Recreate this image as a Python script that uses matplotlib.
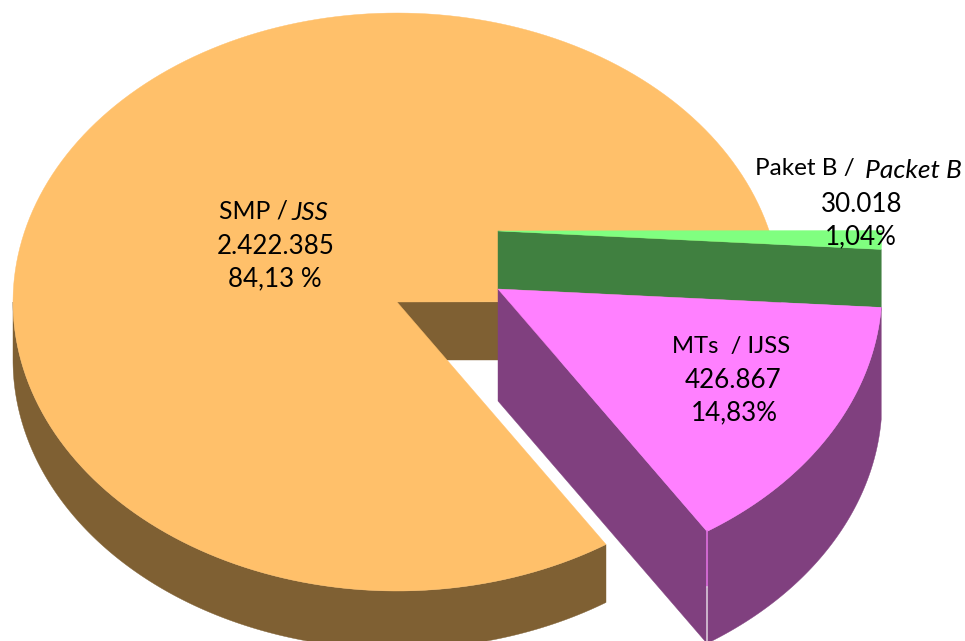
import numpy as np
import matplotlib
matplotlib.use("Agg")
import matplotlib.pyplot as plt
from matplotlib.patches import Polygon

# data
categories = ["SMP / JSS", "MTs / IJSS", "Paket B / Packet B"]
values = [2422385, 426867, 30018]
value_labels = ["2.422.385", "426.867", "30.018"]
pct_labels = ["84,13 %", "14,83%", "1,04%"]

top_colors = ["#FFC06A", "#FF80FF", "#80FF80"]
side_colors = ["#7F6033", "#80407F", "#408040"]

plt.rcParams["font.family"] = ["Lato", "DejaVu Sans"]

fig = plt.figure(figsize=(9.65, 6.41), dpi=100)
ax = fig.add_axes([0, 0, 1, 1])
ax.set_xlim(0, 965)
ax.set_ylim(641, 0)
ax.axis("off")

rx, ry = 384, 289
fs = 18.7

# slice angles from the values, going round from just above 3 o'clock
total = sum(values)
sweep = [360 * v / total for v in values]
a0 = 0.1
a1 = a0 + sweep[0]
a2 = a1 + sweep[1]
a3 = a2 + sweep[2]


def arc(cx, cy, start, end, n=200):
    t = np.radians(np.linspace(start, end, n))
    return np.column_stack([cx + rx * np.cos(t), cy - ry * np.sin(t)])


def wall(p, q, depth, color, z):
    pts = [p, q, (q[0], q[1] + depth), (p[0], p[1] + depth)]
    ax.add_patch(Polygon(pts, closed=True, fc=color, ec=color, lw=0.3, zorder=z))


def rim(cx, cy, start, end, depth, color, z):
    top = arc(cx, cy, start, end)
    low = top[::-1] + [0, depth]
    ax.add_patch(Polygon(np.vstack([top, low]), closed=True, fc=color, ec=color, lw=0.3, zorder=z))


def top(cx, cy, start, end, color, z):
    pts = np.vstack([[(cx, cy)], arc(cx, cy, start, end)])
    ax.add_patch(Polygon(pts, closed=True, fc=color, ec=color, lw=0.3, zorder=z))


# main slice
c_main = (397, 302)
d_main = 58
wall(c_main, (c_main[0] + rx, c_main[1]), d_main, side_colors[0], 1)
rim(*c_main, 180, a1, d_main, side_colors[0], 2)
top(*c_main, a0, a1, top_colors[0], 3)

# small green slice, sits higher
c_green = (498, 231)
d_green = 58
g_end = arc(*c_green, a2, a2, 1)[0]
wall(c_green, g_end, d_green, side_colors[2], 4)
top(*c_green, a2, a3, top_colors[2], 5)

# pulled out pink slice
c_pink = (498, 289)
d_pink = 112
p_end = arc(*c_pink, a1, a1, 1)[0]
wall(c_pink, p_end, d_pink, side_colors[1], 6)
rim(*c_pink, a1, a2, d_pink, side_colors[1], 7)
top(*c_pink, a1, a2, top_colors[1], 8)

# seam on the front corner of the pink slice
ax.plot([p_end[0], p_end[0]], [p_end[1], p_end[1] + 56], color="#E070E0", lw=1.2, zorder=9)
ax.plot([p_end[0], p_end[0]], [p_end[1] + 56, p_end[1] + d_pink], color="#D8C8D8", lw=1.2, zorder=9)

# labels
kw = dict(color="black", va="center", zorder=10)

ax.text(288, 211, "SMP /", ha="right", fontsize=17.8, **kw)
ax.text(291, 212, "JSS", ha="left", style="italic", fontsize=fs, **kw)
ax.text(276, 246, value_labels[0], ha="center", fontsize=fs, **kw)
ax.text(275, 279, pct_labels[0], ha="center", fontsize=fs, **kw)

ax.text(731, 346, "MTs  / IJSS", ha="center", fontsize=17.2, **kw)
ax.text(733, 380, value_labels[1], ha="center", fontsize=fs, **kw)
ax.text(734, 413, pct_labels[1], ha="center", fontsize=fs, **kw)

ax.text(855, 169, "Paket B /", ha="right", fontsize=17.5, **kw)
ax.text(865, 170, "Packet B", ha="left", style="italic", fontsize=19, **kw)
ax.text(862, 204, value_labels[2], ha="center", fontsize=fs, **kw)
ax.text(861, 237, pct_labels[2], ha="center", fontsize=fs, **kw)

fig.savefig("out.png", dpi=100, facecolor="white")
